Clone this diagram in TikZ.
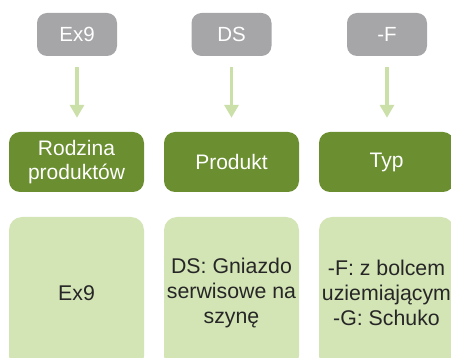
\documentclass[tikz,border=0pt]{standalone}
\usepackage{fontspec}
\setmainfont{Liberation Sans}
\usetikzlibrary{arrows.meta}
\definecolor{codegray}{RGB}{166,166,168}
\definecolor{catgreen}{RGB}{106,142,48}
\definecolor{descgreen}{RGB}{211,228,181}
\definecolor{arrowgreen}{RGB}{202,224,168}
\definecolor{desctext}{RGB}{38,38,38}
\tikzset{
  codebox/.style={fill=codegray,rounded corners=10pt,minimum width=80pt,minimum height=43pt,inner sep=0pt,text=white,font=\fontsize{20.5}{24.5}\selectfont},
  catbox/.style={fill=catgreen,rounded corners=11pt,minimum width=135pt,minimum height=60pt,inner sep=0pt,text=white,align=center,font=\fontsize{21}{24.5}\selectfont},
  descbox/.style={fill=descgreen,rounded corners=13pt,minimum width=135pt,minimum height=152pt,inner sep=0pt,text=desctext,align=center,font=\fontsize{21.3}{25}\selectfont},
  downarrow/.style={draw=arrowgreen,line width=3.7pt,-{Triangle[width=14pt,length=13pt]},shorten <=11pt,shorten >=14pt}
}
\begin{document}
\begin{tikzpicture}[x=1pt,y=-1pt]
  \useasboundingbox (0,0) rectangle (451,358);
  \clip (0,0) rectangle (451,358);
  \node[codebox] (ex9) at (77,34.5) {Ex9};
  \node[codebox] (ds) at (231.5,34.5) {DS};
  \node[codebox] (f) at (387,34.5) {-F};
  \node[catbox] (family) at (76.5,162) {Rodzina\\produktów};
  \node[catbox] (product) at (231.5,162) {Produkt};
  \node[catbox] (type) at (386.5,162) {Typ};
  \node[descbox] (familydesc) at (76.5,293) {Ex9};
  \node[descbox] (productdesc) at (231.5,293) {DS: Gniazdo\\serwisowe na\\szynę};
  \node[descbox] (typedesc) at (386.5,293) {-F: z bolcem\\uziemiającym\\-G: Schuko};
  \draw[downarrow] (ex9.south) -- (ex9.south |- family.north);
  \draw[downarrow] (ds.south) -- (ds.south |- product.north);
  \draw[downarrow] (f.south) -- (f.south |- type.north);
\end{tikzpicture}
\end{document}
